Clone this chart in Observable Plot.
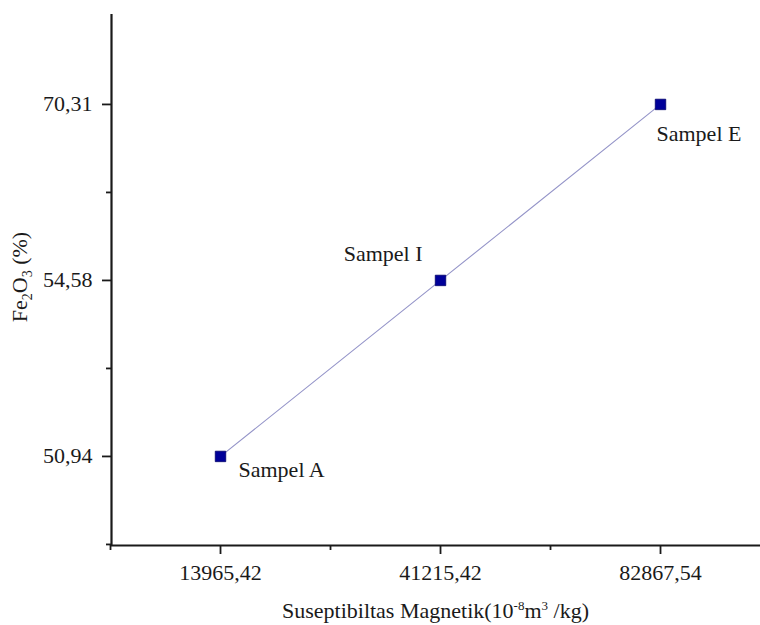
<!DOCTYPE html>
<html><head><meta charset="utf-8">
<script src="https://cdn.jsdelivr.net/npm/d3@7"></script>
<script src="https://cdn.jsdelivr.net/npm/@observablehq/plot@0.6"></script>
<style>
body{margin:0;background:#fff;}
#chart svg{display:block;}
</style></head><body><div id="chart"></div>
<script>
// Data
const sampleNames = ["Sampel A", "Sampel I", "Sampel E"];
const susceptibility = [13965.42, 41215.42, 82867.54];   // 10^-8 m^3/kg
const fe2o3 = [50.94, 54.58, 70.31];                      // %
const xTickLabels = ["13965,42", "41215,42", "82867,54"];
const yTickLabels = ["50,94", "54,58", "70,31"];

// categorical (evenly spaced) positions, as in the original
const xSorted = [...susceptibility].sort((a, b) => a - b);
const ySorted = [...fe2o3].sort((a, b) => a - b);
const data = sampleNames.map((name, i) => ({
  name,
  sus: susceptibility[i],
  fe: fe2o3[i],
  xi: xSorted.indexOf(susceptibility[i]),
  yi: ySorted.indexOf(fe2o3[i])
}));

const FONT = "'Liberation Serif', 'Times New Roman', Times, serif";
const INK = "#1a1a1a";
const FS = 22;
const xDom = [-0.4955, 2.4545];
const yDom = [-0.506, 2.511];

const plot = Plot.plot({
  width: 760,
  height: 625,
  marginLeft: 111,
  marginRight: 0,
  marginTop: 14,
  marginBottom: 80,
  style: {fontFamily: FONT, fontSize: FS + "px", color: INK, background: "#fff", overflow: "visible"},
  x: {type: "linear", domain: xDom},
  y: {type: "linear", domain: yDom},
  marks: [
    Plot.axisX({ticks: [0, 1, 2], tickFormat: i => xTickLabels[i], tickSize: 9, tickPadding: 10, label: null, stroke: INK, strokeWidth: 1.8, fontSize: FS}),
    Plot.axisX({ticks: [-0.5, 0.5, 1.5], tickFormat: () => "", tickSize: 5, label: null, stroke: INK, strokeWidth: 1.8}),
    Plot.axisY({ticks: [0, 1, 2], tickFormat: i => yTickLabels[i], tickSize: 9, tickPadding: 10, label: null, stroke: INK, strokeWidth: 1.8, fontSize: FS}),
    Plot.axisY({ticks: [-0.5, 0.5, 1.5], tickFormat: () => "", tickSize: 5, label: null, stroke: INK, strokeWidth: 1.8}),
    Plot.ruleX([xDom[0]], {stroke: INK, strokeWidth: 2.2}),
    Plot.ruleY([yDom[0]], {stroke: INK, strokeWidth: 2.2}),
    Plot.line(data, {x: "xi", y: "yi", stroke: "#9494c8", strokeWidth: 1.1}),
    Plot.dot(data, {x: "xi", y: "yi", symbol: "square", r: 5.9, fill: "#000099", stroke: "#00006b", strokeWidth: 0.8}),
    Plot.text(data.filter(d => d.name === "Sampel A"), {x: "xi", y: "yi", text: "name", textAnchor: "start", dx: 18, dy: 14, fontSize: FS, fill: INK}),
    Plot.text(data.filter(d => d.name === "Sampel I"), {x: "xi", y: "yi", text: "name", textAnchor: "end", dx: -18, dy: -26, fontSize: FS, fill: INK}),
    Plot.text(data.filter(d => d.name === "Sampel E"), {x: "xi", y: "yi", text: "name", textAnchor: "start", dx: -4, dy: 30, fontSize: FS, fill: INK})
  ]
});

const svg = d3.select(plot);

// Y axis title with subscripts
const yl = svg.append("text")
  .attr("transform", "translate(27,277) rotate(-90)")
  .attr("text-anchor", "middle")
  .attr("font-family", FONT)
  .attr("font-size", FS)
  .attr("fill", INK);
yl.append("tspan").text("Fe");
yl.append("tspan").attr("font-size", 14).attr("dy", 5).text("2");
yl.append("tspan").attr("dy", -5).text("O");
yl.append("tspan").attr("font-size", 14).attr("dy", 5).text("3");
yl.append("tspan").attr("dy", -5).text(" (%)");

// X axis title with superscripts
const xl = svg.append("text")
  .attr("x", 435.5)
  .attr("y", 618)
  .attr("text-anchor", "middle")
  .attr("font-family", FONT)
  .attr("font-size", FS)
  .attr("fill", INK);
xl.append("tspan").text("Suseptibiltas Magnetik(10");
xl.append("tspan").attr("font-size", 13).attr("dy", -8).text("-8");
xl.append("tspan").attr("dy", 8).text("m");
xl.append("tspan").attr("font-size", 13).attr("dy", -8).text("3");
xl.append("tspan").attr("dy", 8).text(" /kg)");

document.getElementById("chart").appendChild(plot);
</script>
</body></html>
